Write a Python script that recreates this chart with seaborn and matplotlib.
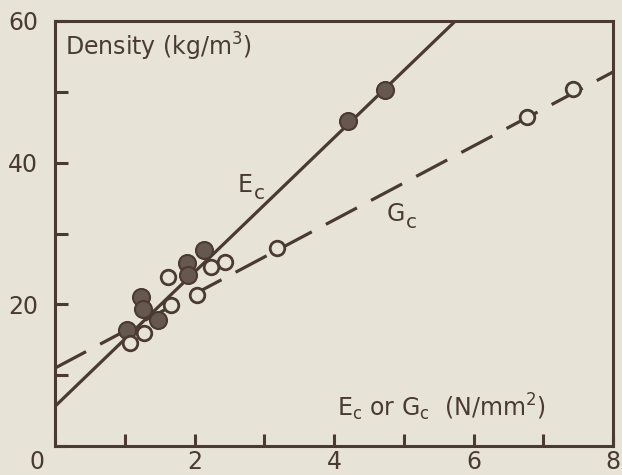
import matplotlib
matplotlib.use("Agg")
import matplotlib.pyplot as plt
import seaborn as sns
import pandas as pd

# ---- data ----
ec_x = [1.03, 1.23, 1.26, 1.48, 1.89, 1.91, 2.14, 4.20, 4.73]
ec_y = [16.4, 21.1, 19.4, 17.8, 25.8, 24.2, 27.7, 45.9, 50.2]
gc_x = [1.07, 1.27, 1.62, 1.67, 2.03, 2.24, 2.44, 3.18, 6.76, 7.42]
gc_y = [14.5, 15.9, 23.9, 19.9, 21.3, 25.3, 26.0, 27.9, 46.4, 50.4]
ec_line_x = [0.0, 5.74]
ec_line_y = [5.6, 60.0]
gc_line_x = [0.0, 8.0]
gc_line_y = [11.0, 52.8]
x_ticks = [0, 1, 2, 3, 4, 5, 6, 7, 8]
x_tick_labels = ["", "", "2", "", "4", "", "6", "", "8"]
y_ticks = [0, 10, 20, 30, 40, 50, 60]
y_tick_labels = ["", "", "20", "", "40", "", "60"]

PAPER = "#e7e4d7"
INK = "#4a3a33"
FS = 17

sns.set_style("white")
plt.rcParams["font.family"] = ["DejaVu Sans"]
plt.rcParams["mathtext.default"] = "regular"

fig = plt.figure(figsize=(6.22, 4.75), dpi=100, facecolor=PAPER)
ax = fig.add_axes([55 / 622, 29 / 475, 558 / 622, 425 / 475])
ax.set_facecolor(PAPER)

ec_line = pd.DataFrame({"x": ec_line_x, "y": ec_line_y})
gc_line = pd.DataFrame({"x": gc_line_x, "y": gc_line_y})
sns.lineplot(data=ec_line, x="x", y="y", ax=ax, color=INK, lw=2.3, zorder=2)
sns.lineplot(data=gc_line, x="x", y="y", ax=ax, color=INK, lw=2.3, zorder=2)
ax.lines[-1].set_dashes([11, 5])

ec = pd.DataFrame({"x": ec_x, "y": ec_y})
gc = pd.DataFrame({"x": gc_x, "y": gc_y})
sns.scatterplot(data=ec, x="x", y="y", ax=ax, s=150, color="#66574f",
                edgecolor=INK, linewidth=1.5, zorder=3)
sns.scatterplot(data=gc, x="x", y="y", ax=ax, s=110, facecolor=PAPER,
                edgecolor=INK, linewidth=2.0, zorder=4)

ax.set_xlim(0, 8)
ax.set_ylim(0, 60)
ax.set_xticks(x_ticks)
ax.set_xticklabels(x_tick_labels)
ax.set_yticks(y_ticks)
ax.set_yticklabels(y_tick_labels)
ax.set_xlabel("")
ax.set_ylabel("")
ax.tick_params(bottom=True, left=True, direction="in", length=9, width=2.2,
               color=INK, labelcolor=INK, labelsize=FS, pad=3)
ax.tick_params(axis="y", pad=12)
for sp in ax.spines.values():
    sp.set_color(INK)
    sp.set_linewidth(2.2)
    sp.set_visible(True)

ax.annotate("0", xy=(-0.26, 0), xycoords=("data", "axes fraction"),
            xytext=(0, -3), textcoords="offset points", ha="center",
            va="top", fontsize=FS, color=INK, annotation_clip=False)


def sub_label(x, y, main, sub, tail=""):
    t = ax.text(x, y, main, fontsize=FS, color=INK, ha="left", va="baseline")
    fig.canvas.draw()
    bb = t.get_window_extent()
    inv = ax.transData.inverted()
    x1 = inv.transform((bb.x1, bb.y0))[0]
    s = ax.annotate(sub, xy=(x1, y), xycoords="data", xytext=(0.5, -5),
                    textcoords="offset points", fontsize=FS * 0.85,
                    color=INK, ha="left", va="baseline")
    return s


ax.text(0.14, 56.4, "Density (kg/m$^3$)", fontsize=FS, color=INK,
        ha="left", va="center")
sub_label(2.62, 35.8, "E", "c")
sub_label(4.75, 31.8, "G", "c")
ax.text(4.04, 5.4, "E$_c$ or G$_c$  (N/mm$^2$)", fontsize=FS, color=INK,
        ha="left", va="center")

fig.savefig("out.png", dpi=100, facecolor=PAPER)
